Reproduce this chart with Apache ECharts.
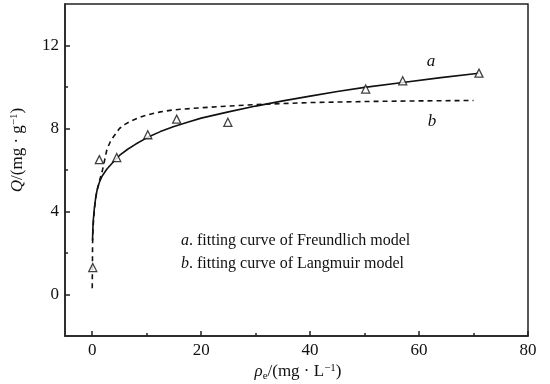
<!DOCTYPE html>
<html><head><meta charset="utf-8">
<script src="https://cdn.jsdelivr.net/npm/echarts@6/dist/echarts.min.js"></script>
<style>html,body{margin:0;padding:0;background:#fff}#c{width:550px;height:384px}</style>
</head><body><div id="c"></div>
<script>
// measured points (rho_e, Q)
var measuredX = [0.1, 1.3, 4.5, 10.2, 15.5, 24.9, 50.2, 57.0, 71.0];
var measuredQ = [1.3, 6.5, 6.6, 7.7, 8.45, 8.3, 9.9, 10.3, 10.67];
// curve a: Freundlich fit
var curveAX = [0.05, 0.12, 0.2, 0.37, 0.6, 0.86, 1.3, 1.8, 2.7, 3.9, 5, 6.5, 8, 10, 12.5, 15, 17.5, 20, 25, 30, 35, 40, 45, 50, 57, 64, 71];
var curveAQ = [2.6, 3.2, 3.6, 4.1, 4.6, 5.0, 5.4, 5.7, 6.05, 6.4, 6.7, 7.0, 7.25, 7.55, 7.85, 8.1, 8.3, 8.5, 8.8, 9.08, 9.33, 9.56, 9.78, 9.98, 10.22, 10.45, 10.66];
// curve b: Langmuir fit
var curveBX = [0.0, 0.03, 0.06, 0.12, 0.2, 0.4, 0.6, 0.86, 1.3, 1.8, 2.3, 2.7, 3.3, 3.9, 5, 6, 7, 8.5, 10, 12.5, 15, 20, 25, 30, 40, 50, 60, 70];
var curveBQ = [0.3, 1.2, 2.4, 3.0, 3.4, 4.1, 4.6, 5.0, 5.45, 5.9, 6.5, 7.0, 7.35, 7.6, 8.0, 8.2, 8.35, 8.52, 8.65, 8.8, 8.9, 9.0, 9.08, 9.15, 9.25, 9.3, 9.33, 9.35];
var xMajorTicks = [0, 20, 40, 60, 80];
var xMinorTicks = [10, 30, 50, 70];
var yMajorTicks = [0, 4, 8, 12];
var yMinorTicks = [2, 6, 10];

function pairs(xs, ys){ return xs.map(function(x,i){return [x, ys[i]];}); }
var F = 'Liberation Serif, Times New Roman, serif';
var chart = echarts.init(document.getElementById('c'));
chart.setOption({
  animation: false,
  grid: {left: 65, right: 22, top: 4, bottom: 48, show: true, borderColor: '#222', borderWidth: 1.5, backgroundColor: 'transparent'},
  xAxis: [{
    type: 'value', min: -5, max: 80,
    splitLine: {show: false},
    axisLine: {onZero: false, lineStyle: {color: '#222', width: 1.5}},
    axisTick: {inside: true, length: 5, customValues: xMajorTicks, lineStyle: {color: '#222', width: 1.5}},
    axisLabel: {customValues: xMajorTicks, color: '#111', fontFamily: F, fontSize: 17, margin: 6}
  }, {
    type: 'value', min: -5, max: 80, position: 'bottom',
    splitLine: {show: false},
    axisLine: {show: false, onZero: false},
    axisTick: {inside: true, length: 3, customValues: xMinorTicks, lineStyle: {color: '#222', width: 1.5}},
    axisLabel: {show: false}
  }],
  yAxis: [{
    type: 'value', min: -2, max: 14,
    splitLine: {show: false},
    axisLine: {show: true, onZero: false, lineStyle: {color: '#222', width: 1.5}},
    axisTick: {show: true, inside: true, length: 5, customValues: yMajorTicks, lineStyle: {color: '#222', width: 1.5}},
    axisLabel: {customValues: yMajorTicks, color: '#111', fontFamily: F, fontSize: 17, margin: 6}
  }, {
    type: 'value', min: -2, max: 14, position: 'left',
    splitLine: {show: false},
    axisLine: {show: false, onZero: false},
    axisTick: {show: true, inside: true, length: 3, customValues: yMinorTicks, lineStyle: {color: '#222', width: 1.5}},
    axisLabel: {show: false}
  }],
  series: [{
    type: 'line', data: pairs(curveBX, curveBQ), smooth: false,
    showSymbol: false, lineStyle: {color: '#111', width: 1.6, type: [5, 4]}, z: 2
  }, {
    type: 'line', data: pairs(curveAX, curveAQ), smooth: false,
    showSymbol: false, lineStyle: {color: '#111', width: 1.6}, z: 3
  }, {
    type: 'scatter', data: pairs(measuredX, measuredQ), symbol: 'triangle', symbolSize: 8,
    itemStyle: {color: '#fff', borderColor: '#111', borderWidth: 1.3}, z: 4
  }],
  graphic: [
    {type: 'text', x: 431, y: 62, style: {text: 'a', font: 'italic 17px ' + F, fill: '#111', textAlign: 'center', textVerticalAlign: 'middle'}},
    {type: 'text', x: 432, y: 122, style: {text: 'b', font: 'italic 17px ' + F, fill: '#111', textAlign: 'center', textVerticalAlign: 'middle'}},
    {type: 'text', x: 181, y: 241, style: {text: '{i|a}. fitting curve of Freundlich model', font: '16px ' + F, fill: '#111', textVerticalAlign: 'middle',
      rich: {i: {fontStyle: 'italic', fontFamily: F, fontSize: 16}}}},
    {type: 'text', x: 181, y: 264, style: {text: '{i|b}. fitting curve of Langmuir model', font: '16px ' + F, fill: '#111', textVerticalAlign: 'middle',
      rich: {i: {fontStyle: 'italic', fontFamily: F, fontSize: 16}}}},
    {type: 'text', x: 298, y: 372, style: {text: '{i|ρ}{sub|e}/(mg · L{sup|−1})', font: '17px ' + F, fill: '#111', textAlign: 'center', textVerticalAlign: 'middle',
      rich: {i: {fontStyle: 'italic', fontFamily: F, fontSize: 17}, sub: {fontFamily: F, fontSize: 11, padding: [8, 0, 0, 0]}, sup: {fontFamily: F, fontSize: 11, padding: [0, 0, 8, 0]}}}},
    {type: 'text', x: 18, y: 150, rotation: Math.PI / 2, style: {text: '{i|Q}/(mg · g{sup|−1})', font: '17px ' + F, fill: '#111', textAlign: 'center', textVerticalAlign: 'middle',
      rich: {i: {fontStyle: 'italic', fontFamily: F, fontSize: 17}, sup: {fontFamily: F, fontSize: 11, padding: [0, 0, 8, 0]}}}}
  ]
});
</script></body></html>
